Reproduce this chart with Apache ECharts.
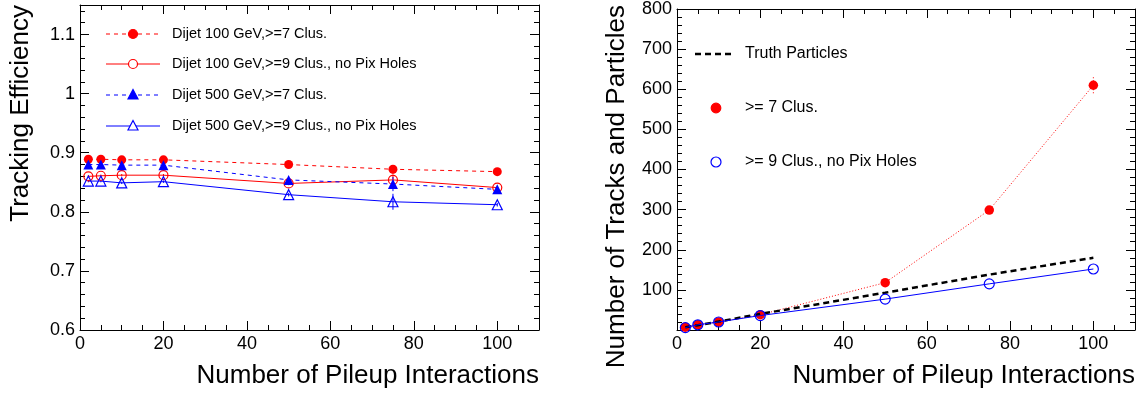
<!DOCTYPE html>
<html>
<head>
<meta charset="utf-8">
<title>Tracking efficiency and track multiplicity vs pileup</title>
<script src="https://cdn.jsdelivr.net/npm/echarts@6/dist/echarts.min.js"></script>
<style>
  html, body { margin: 0; padding: 0; background: #fff; }
  #chart { width: 1145px; height: 396px; }
</style>
</head>
<body>
<div id="chart"></div>
<script>
// Pileup points (number of interactions)
const pileup = [2, 5, 10, 20, 50, 75, 100];

// Left panel: tracking efficiency
const effDijet100Clus7 = [0.889, 0.889, 0.888, 0.888, 0.880, 0.872, 0.868];
const effDijet100Clus9 = [0.860, 0.861, 0.862, 0.862, 0.848, 0.854, 0.841];
const effDijet500Clus7 = [0.880, 0.880, 0.879, 0.879, 0.854, 0.847, 0.838];
const effDijet500Clus9 = [0.852, 0.852, 0.849, 0.851, 0.829, 0.817, 0.812];
const errDijet100Clus7 = [0.002, 0.002, 0.002, 0.002, 0.003, 0.009, 0.003];
const errDijet100Clus9 = [0.002, 0.002, 0.002, 0.002, 0.003, 0.008, 0.003];
const errDijet500Clus7 = [0.002, 0.002, 0.002, 0.002, 0.003, 0.012, 0.003];
const errDijet500Clus9 = [0.002, 0.002, 0.002, 0.002, 0.003, 0.0135, 0.003];

// Right panel: number of tracks and truth particles
const nTruth = [7, 12, 21, 40, 93, 138, 180];
const nTracksClus7 = [7, 13, 20, 38, 118, 299, 610];
const nTracksClus9 = [6, 13, 20, 36, 77, 115, 152];
const errTracksClus7 = [1, 1, 1, 2, 4, 6, 20];

// Legend texts
const leftLegendNames = [
  'Dijet 100 GeV,>=7 Clus.',
  'Dijet 100 GeV,>=9 Clus., no Pix Holes',
  'Dijet 500 GeV,>=7 Clus.',
  'Dijet 500 GeV,>=9 Clus., no Pix Holes'
];
const rightLegendNames = ['Truth Particles', '>= 7 Clus.', '>= 9 Clus., no Pix Holes'];

// Axis titles
const xTitle = 'Number of Pileup Interactions';
const yTitleLeft = 'Tracking Efficiency';
const yTitleRight = 'Number of Tracks and Particles';

const FONT = "'Liberation Sans', Arial, Helvetica, sans-serif";
const RED = '#ff0000';
const BLUE = '#0000ff';

const chart = echarts.init(document.getElementById('chart'), null, { renderer: 'canvas' });

function pairs(ys) { return pileup.map((x, i) => [x, ys[i]]); }

function frameAxis(base, extra) {
  return Object.assign({
    axisLine: { show: true, onZero: false, lineStyle: { color: '#000', width: 1 } },
    axisTick: { show: true, inside: true, length: 9, lineStyle: { color: '#000', width: 1 } },
    minorTick: { show: true, length: 5, lineStyle: { color: '#000', width: 1 } },
    splitLine: { show: false },
    minorSplitLine: { show: false }
  }, base, extra);
}

const tickLabel = { color: '#000', fontSize: 18, fontFamily: FONT };

function xAxes(grid) {
  const base = { type: 'value', gridIndex: grid, min: 0, max: 110, interval: 20 };
  base.minorTick = { show: true, splitNumber: 4, length: 5, lineStyle: { color: '#000' } };
  return [
    frameAxis(base, { position: 'bottom',
      axisLabel: Object.assign({ margin: 5, showMaxLabel: false }, tickLabel) }),
    frameAxis(base, { position: 'top', axisLabel: { show: false } })
  ];
}

function yAxes(grid, min, max, interval, showMin, showMax) {
  const base = { type: 'value', gridIndex: grid, min: min, max: max, interval: interval };
  base.minorTick = { show: true, splitNumber: 5, length: 5, lineStyle: { color: '#000' } };
  return [
    frameAxis(base, { position: 'left',
      axisLabel: Object.assign({ margin: 5, showMaxLabel: showMax, showMinLabel: showMin }, tickLabel) }),
    frameAxis(base, { position: 'right', axisLabel: { show: false } })
  ];
}

function lineSeries(axis, data, opts) {
  return {
    type: 'line',
    xAxisIndex: axis, yAxisIndex: axis,
    data: pairs(data),
    symbol: opts.symbol,
    symbolSize: opts.size,
    showSymbol: opts.symbol !== 'none',
    lineStyle: { color: opts.color, width: opts.width || 1, type: opts.dash || 'solid' },
    itemStyle: opts.hollow
      ? { color: 'rgba(0,0,0,0)', borderColor: opts.color, borderWidth: 1.2 }
      : { color: opts.color, borderColor: opts.color, borderWidth: 0 },
    z: opts.z || 3,
    animation: false,
    silent: true
  };
}

function errorSeries(axis, data, errs, color, dash) {
  return {
    type: 'custom',
    xAxisIndex: axis, yAxisIndex: axis,
    data: pileup.map((x, i) => [x, data[i], errs[i]]),
    renderItem: function (params, api) {
      const x = api.value(0), y = api.value(1), e = api.value(2);
      const p1 = api.coord([x, y - e]);
      const p2 = api.coord([x, y + e]);
      return {
        type: 'line',
        shape: { x1: p1[0], y1: p1[1], x2: p2[0], y2: p2[1] },
        style: { stroke: color, lineWidth: 1, lineDash: dash }
      };
    },
    z: 2,
    animation: false,
    silent: true
  };
}

// Legend sample helpers (line sample + marker + label)
function legendEntry(x0, x1, y, textX, label, fontSize, line, marker) {
  const els = [];
  if (line) {
    els.push({ type: 'line', shape: { x1: x0, y1: y, x2: x1, y2: y },
      style: { stroke: line.color, lineWidth: line.width || 1, lineDash: line.dash || null } });
  }
  if (marker) {
    const cx = marker.x !== undefined ? marker.x : (x0 + x1) / 2;
    const r = marker.r;
    const fill = marker.hollow ? '#fff' : marker.color;
    if (marker.shape === 'circle') {
      els.push({ type: 'circle', shape: { cx: cx, cy: y, r: r },
        style: { fill: fill, stroke: marker.color, lineWidth: 1.2 } });
    } else {
      els.push({ type: 'polygon',
        shape: { points: [[cx, y - r * 1.1], [cx + r, y + r * 0.8], [cx - r, y + r * 0.8]] },
        style: { fill: fill, stroke: marker.color, lineWidth: 1.2 } });
    }
  }
  els.push({ type: 'text', x: textX, y: y,
    style: { text: label, fill: '#000', font: fontSize + 'px ' + FONT,
      textAlign: 'left', textVerticalAlign: 'middle' } });
  return els;
}

const leftLegendY = [34, 64, 95, 126];
const leftLegendStyles = [
  { line: { color: RED, dash: [4, 4] }, marker: { shape: 'circle', color: RED, r: 4.5 } },
  { line: { color: RED }, marker: { shape: 'circle', color: RED, r: 4.5, hollow: true } },
  { line: { color: BLUE, dash: [4, 4] }, marker: { shape: 'triangle', color: BLUE, r: 5 } },
  { line: { color: BLUE }, marker: { shape: 'triangle', color: BLUE, r: 5, hollow: true } }
];

let graphics = [];
leftLegendNames.forEach((name, i) => {
  graphics = graphics.concat(legendEntry(106, 160, leftLegendY[i], 172, name, 14.5,
    leftLegendStyles[i].line, leftLegendStyles[i].marker));
});

const rightLegendY = [54, 108, 162];
graphics = graphics.concat(legendEntry(695, 734, rightLegendY[0], 745, rightLegendNames[0], 16,
  { color: '#000', width: 2.5, dash: [6, 4] }, null));
graphics = graphics.concat(legendEntry(695, 734, rightLegendY[1], 745, rightLegendNames[1], 16,
  null, { shape: 'circle', color: RED, r: 4.8, x: 716 }));
graphics = graphics.concat(legendEntry(695, 734, rightLegendY[2], 745, rightLegendNames[2], 16,
  null, { shape: 'circle', color: BLUE, r: 5, x: 716, hollow: true }));

// Axis titles
const titleFont = '26px ' + FONT;
graphics.push(
  { type: 'text', x: 539, y: 376, style: { text: xTitle, font: titleFont, fill: '#000',
      textAlign: 'right', textVerticalAlign: 'middle' } },
  { type: 'text', x: 1135, y: 376, style: { text: xTitle, font: titleFont, fill: '#000',
      textAlign: 'right', textVerticalAlign: 'middle' } },
  { type: 'text', x: 21, y: 5, rotation: Math.PI / 2, style: { text: yTitleLeft, font: titleFont,
      fill: '#000', textAlign: 'right', textVerticalAlign: 'middle' } },
  { type: 'text', x: 617, y: 5, rotation: Math.PI / 2, style: { text: yTitleRight, font: titleFont,
      fill: '#000', textAlign: 'right', textVerticalAlign: 'middle' } }
);

const option = {
  animation: false,
  backgroundColor: '#fff',
  grid: [
    { left: 80, top: 5, width: 459, height: 325, containLabel: false },
    { left: 677, top: 5, width: 458, height: 325, containLabel: false }
  ],
  xAxis: xAxes(0).concat(xAxes(1)),
  yAxis: yAxes(0, 0.6, 1.15, 0.1, true, false).concat(yAxes(1, 0, 800, 100, false, true)),
  series: [
    // Left panel (axes 0)
    errorSeries(0, effDijet100Clus7, errDijet100Clus7, RED, [3, 3]),
    errorSeries(0, effDijet100Clus9, errDijet100Clus9, RED, null),
    errorSeries(0, effDijet500Clus7, errDijet500Clus7, BLUE, [3, 3]),
    errorSeries(0, effDijet500Clus9, errDijet500Clus9, BLUE, null),
    lineSeries(0, effDijet100Clus7, { symbol: 'circle', size: 9, color: RED, dash: [4, 4] }),
    lineSeries(0, effDijet100Clus9, { symbol: 'circle', size: 9, color: RED, hollow: true }),
    lineSeries(0, effDijet500Clus7, { symbol: 'triangle', size: 10, color: BLUE, dash: [4, 4] }),
    lineSeries(0, effDijet500Clus9, { symbol: 'triangle', size: 10, color: BLUE, hollow: true }),
    // Right panel (axes 2)
    errorSeries(2, nTracksClus7, errTracksClus7, RED, [1, 2]),
    lineSeries(2, nTracksClus7, { symbol: 'circle', size: 9.5, color: RED, dash: [1, 2] }),
    lineSeries(2, nTruth, { symbol: 'none', size: 0, color: '#000', width: 2.5, dash: [6, 4], z: 4 }),
    lineSeries(2, nTracksClus9, { symbol: 'circle', size: 10, color: BLUE, hollow: true, z: 5 })
  ],
  graphic: { elements: graphics }
};

chart.setOption(option);
</script>
</body>
</html>
